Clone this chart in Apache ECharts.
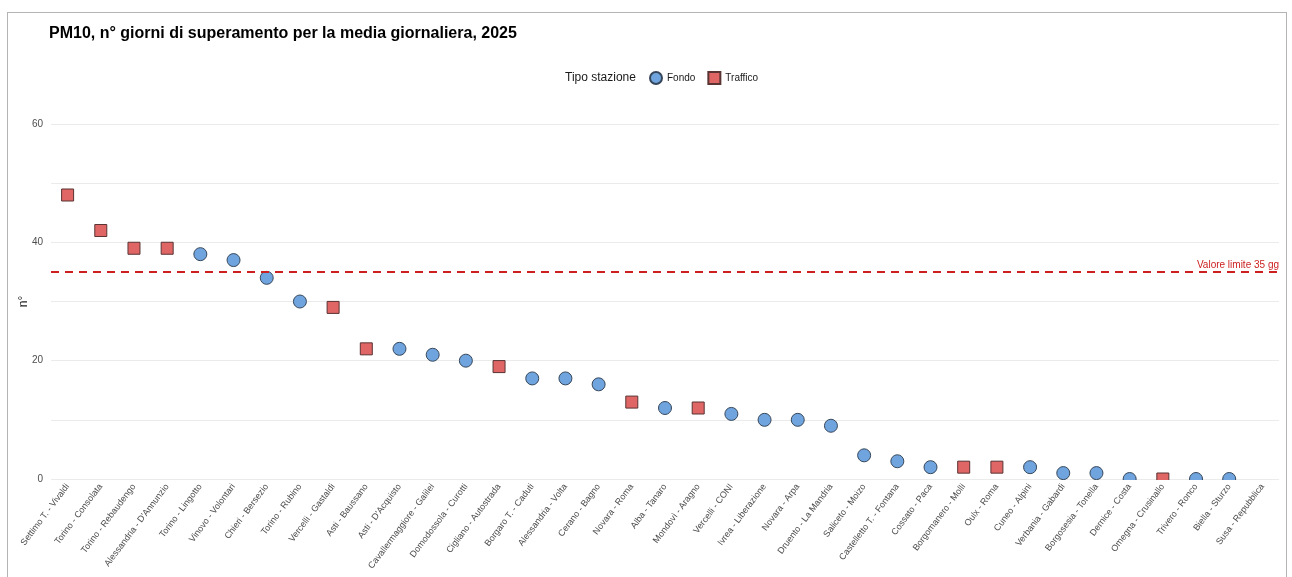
<!DOCTYPE html>
<html>
<head>
<meta charset="utf-8">
<script src="https://cdn.jsdelivr.net/npm/echarts@6/dist/echarts.min.js"></script>
<style>
html,body{margin:0;padding:0;background:#fff;width:1292px;height:577px;overflow:hidden;}
#frame{position:absolute;left:7px;top:12px;width:1280px;height:620px;border:1px solid #b4b4b4;box-sizing:border-box;}
#chart{position:absolute;left:0;top:0;width:1292px;height:577px;}
</style>
</head>
<body>
<div id="frame"></div>
<div id="chart"></div>
<script>
const stations = [
  "Settimo T. - Vivaldi","Torino - Consolata","Torino - Rebaudengo","Alessandria - D'Annunzio",
  "Torino - Lingotto","Vinovo - Volontari","Chieri - Bersezio","Torino - Rubino",
  "Vercelli - Gastaldi","Asti - Baussano","Asti - D'Acquisto","Cavallermaggiore - Galilei",
  "Domodossola - Curotti","Cigliano - Autostrada","Borgaro T. - Caduti","Alessandria - Volta",
  "Cerano - Bagno","Novara - Roma","Alba - Tanaro","Mondovì - Aragno",
  "Vercelli - CONI","Ivrea - Liberazione","Novara - Arpa","Druento - La Mandria",
  "Saliceto - Moizo","Castelletto T. - Fontana","Cossato - Paca","Borgomanero - Molli",
  "Oulx - Roma","Cuneo - Alpini","Verbania - Gabardi","Borgosesia - Tonella",
  "Dernice - Costa","Omegna - Crusinallo","Trivero - Ronco","Biella - Sturzo",
  "Susa - Repubblica"
];
const days = [48,42,39,39,38,37,34,30,29,22,22,21,20,19,17,17,16,13,12,12,11,10,10,9,4,3,2,2,2,2,1,1,0,0,0,0,null];
const stationType = ["T","T","T","T","F","F","F","F","T","T","F","F","F","T","F","F","F","T","F","T","F","F","F","F","F","F","F","T","T","F","F","F","F","T","F","F","T"];
const yTicks = [0,20,40,60];
const limitValue = 35;

const FONT = "'Liberation Sans', Arial, sans-serif";
const fondoData = days.map((v,i)=> (stationType[i]==="F" && v!==null) ? v : '-');
const trafficoData = days.map((v,i)=> (stationType[i]==="T" && v!==null) ? v : '-');

const chart = echarts.init(document.getElementById('chart'), null, {renderer:'canvas'});
chart.setOption({
  animation:false,
  backgroundColor:'transparent',
  textStyle:{fontFamily:FONT},
  title:{
    text:'PM10, n° giorni di superamento per la media giornaliera, 2025',
    left:44, top:21,
    textStyle:{fontFamily:FONT,fontSize:16,fontWeight:'bold',color:'#000'}
  },
  graphic:[
    {
      type:'text', left:565, top:72,
      style:{text:'Tipo stazione', fontFamily:FONT, fontSize:12, fill:'#1a1a1a'}
    },
    {
      type:'rect', z:5, silent:true,
      shape:{x:48, y:480, width:1238, height:100},
      style:{fill:'#ffffff'}
    }
  ],
  legend:{
    left:644, top:66,
    itemWidth:12, itemHeight:12, itemGap:12,
    textStyle:{fontFamily:FONT,fontSize:10,color:'#1a1a1a'},
    data:[{name:'Fondo',icon:'circle'},{name:'Traffico',icon:'rect'}]
  },
  grid:{left:51,right:13,top:124,bottom:98,containLabel:false},
  xAxis:{
    type:'category',
    data:stations,
    boundaryGap:true,
    z:10,
    axisLine:{show:false},
    axisTick:{show:false},
    splitLine:{show:false},
    axisLabel:{
      interval:0, rotate:53, margin:6,
      fontFamily:FONT, fontSize:9, color:'#4d4d4d'
    }
  },
  yAxis:{
    type:'value', min:0, max:60, interval:10,
    name:'n°', nameLocation:'middle', nameGap:21, nameRotate:90, nameMoveOverlap:false,
    nameTextStyle:{fontFamily:FONT,fontSize:12,color:'#1a1a1a'},
    axisLine:{show:false}, axisTick:{show:false},
    axisLabel:{
      margin:8, fontFamily:FONT, fontSize:10, color:'#4d4d4d',
      formatter:(v)=> yTicks.includes(v) ? String(v) : ''
    },
    splitLine:{lineStyle:{color:'#ebebeb',width:1}}
  },
  series:[
    {
      name:'Fondo', type:'scatter', data:fondoData,
      symbol:'circle', symbolSize:13,
      itemStyle:{color:'#6fa4de', borderColor:'#37475a', borderWidth:1, opacity:1},
      markLine:{
        silent:true, symbol:'none',
        lineStyle:{color:'#cc1f1f', type:[8,6], width:2},
        label:{
          show:true, position:'insideEndTop', formatter:'Valore limite 35 gg',
          fontFamily:FONT, fontSize:10, color:'#cc1f1f', distance:[0,2]
        },
        data:[{yAxis:limitValue}]
      },
      z:3
    },
    {
      name:'Traffico', type:'scatter', data:trafficoData,
      symbol:'rect', symbolSize:12,
      itemStyle:{color:'#e06666', borderColor:'#5a3333', borderWidth:1, opacity:1},
      z:3
    }
  ]
});
</script>
</body>
</html>
